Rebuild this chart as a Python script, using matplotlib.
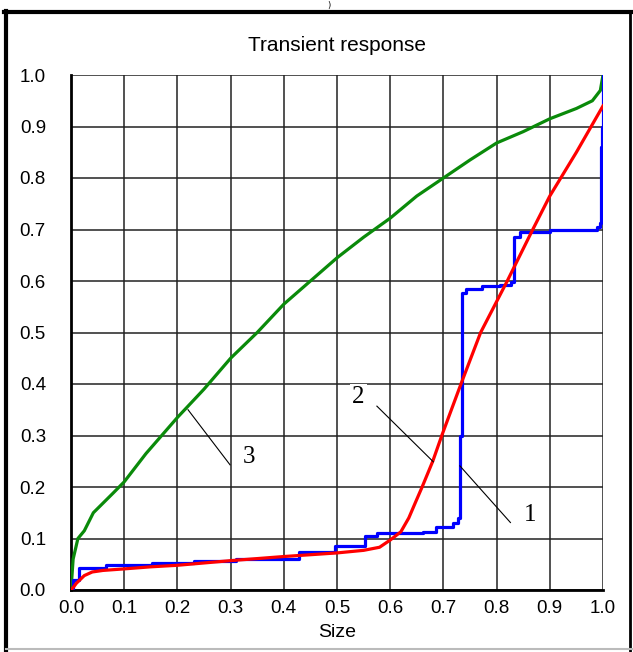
import matplotlib
matplotlib.use('Agg')
import numpy as np
from matplotlib import pyplot as plt
from matplotlib.lines import Line2D

# curve 1 (blue) - staircase
x1 = [0, 0.003, 0.015, 0.066, 0.152, 0.231, 0.31, 0.428, 0.496, 0.553, 0.575,
      0.662, 0.687, 0.718, 0.727, 0.732, 0.735, 0.743, 0.772, 0.806, 0.828,
      0.832, 0.844, 0.9, 0.988, 0.994, 0.996, 0.999, 1.0]
y1 = [0, 0.02, 0.042, 0.048, 0.052, 0.056, 0.06, 0.073, 0.085, 0.104, 0.11,
      0.113, 0.122, 0.13, 0.14, 0.3, 0.576, 0.585, 0.59, 0.592, 0.599,
      0.686, 0.696, 0.70, 0.705, 0.713, 0.86, 0.9, 1.0]

# curve 2 (red)
x2 = [0, 0.005, 0.01, 0.025, 0.04, 0.06, 0.1, 0.15, 0.2, 0.3, 0.4, 0.5, 0.55,
      0.58, 0.6, 0.62, 0.635, 0.647, 0.66, 0.68, 0.697, 0.715, 0.733, 0.77,
      0.82, 0.868, 0.9, 0.95, 1.0]
y2 = [0, 0.006, 0.013, 0.028, 0.035, 0.038, 0.041, 0.045, 0.048, 0.057, 0.065,
      0.072, 0.077, 0.083, 0.097, 0.113, 0.14, 0.169, 0.2, 0.25, 0.3, 0.35,
      0.4, 0.5, 0.6, 0.7, 0.765, 0.85, 0.94]

# curve 3 (green)
x3 = [0, 0.004, 0.013, 0.025, 0.042, 0.079, 0.1, 0.141, 0.2, 0.25, 0.3, 0.35,
      0.4, 0.45, 0.5, 0.55, 0.6, 0.65, 0.7, 0.75, 0.8, 0.85, 0.9, 0.95, 0.98,
      0.995, 1.0]
y3 = [0, 0.06, 0.1, 0.115, 0.15, 0.188, 0.21, 0.265, 0.335, 0.39, 0.45, 0.5,
      0.555, 0.6, 0.645, 0.685, 0.722, 0.765, 0.80, 0.835, 0.868, 0.89, 0.915,
      0.935, 0.95, 0.97, 1.0]

ticks = np.round(np.arange(0, 1.01, 0.1), 1)
tick_labels = ['%.1f' % t for t in ticks]

# curve labels: text, text position, leader line start, leader line end
labels = [('1', (0.863, 0.146), (0.731, 0.241), (0.826, 0.131)),
          ('2', (0.54, 0.375), (0.575, 0.357), (0.681, 0.249)),
          ('3', (0.335, 0.259), (0.22, 0.35), (0.299, 0.243))]

sans = ['Liberation Sans', 'DejaVu Sans']

fig = plt.figure(figsize=(6.33, 6.52), dpi=100)
ax = fig.add_axes([71 / 633, 62 / 652, 532 / 633, 515 / 652])

ax.set_xlim(0, 1)
ax.set_ylim(0, 1)
ax.set_xticks(ticks)
ax.set_yticks(ticks)
ax.set_xticklabels(tick_labels, family=sans, fontsize=13.5)
ax.set_yticklabels(tick_labels, family=sans, fontsize=13.5)
ax.tick_params(axis='x', length=0, pad=7)
ax.tick_params(axis='y', length=0, pad=18)
ax.grid(True, color='#222222', linewidth=1.1)
ax.set_axisbelow(True)

for side in ['top', 'right']:
    ax.spines[side].set_visible(False)
for side in ['left', 'bottom']:
    ax.spines[side].set_linewidth(2.0)
    ax.spines[side].set_color('black')

ax.plot(x3, y3, color='#0a8a0a', linewidth=2.3, zorder=3)
ax.plot(x1, y1, color='#0000ff', linewidth=2.3, drawstyle='steps-post', zorder=4)
ax.plot(x2, y2, color='#ff0000', linewidth=2.3, zorder=5)

for txt, pos, p0, p1 in labels:
    ax.plot([p0[0], p1[0]], [p0[1], p1[1]], color='black', linewidth=0.8, zorder=6)
    ax.text(pos[0], pos[1], txt, family='Liberation Serif', fontsize=18,
            ha='center', va='center', zorder=7,
            bbox=dict(facecolor='white', edgecolor='none', pad=1.5))

ax.set_title('Transient response', family=sans, fontsize=15, pad=17)
ax.set_xlabel('Size', family=sans, fontsize=14, labelpad=5)

# outer frame of the panel
W, H = 633.0, 652.0
fig.add_artist(Line2D([6 / W, 6 / W], [0, (H - 11) / H], color='black', linewidth=3))
fig.add_artist(Line2D([4 / W, 632 / W], [(H - 11.5) / H, (H - 11.5) / H], color='black', linewidth=3))
fig.add_artist(Line2D([629.5 / W, 629.5 / W], [0, (H - 11) / H], color='black', linewidth=2))
fig.add_artist(Line2D([6 / W, 632 / W], [3 / H, 3 / H], color='#bbbbbb', linewidth=1.5))
fig.text(329 / W, (H - 1) / H, ')', fontsize=6, ha='center', va='top', family='DejaVu Sans')

fig.savefig('out.png', dpi=100)
